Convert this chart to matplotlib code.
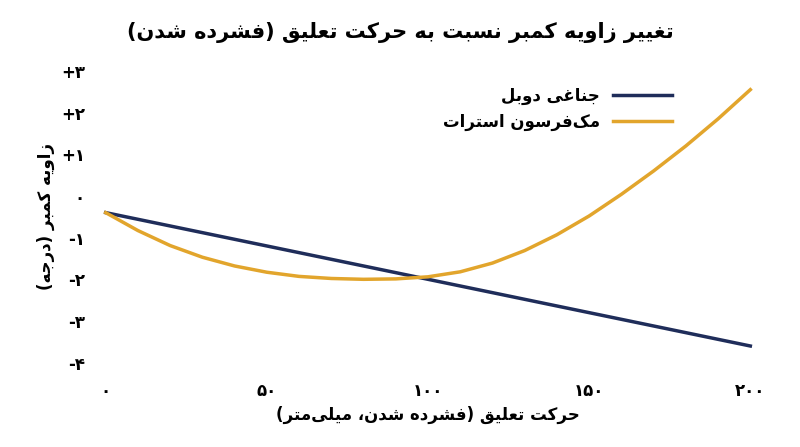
import matplotlib
matplotlib.use("Agg")
import matplotlib.pyplot as plt

# minimal Persian shaping (matplotlib has no RTL/joining support)
FORMS = {
    'ا': (0xFE8D, 0xFE8E, None, None), 'ب': (0xFE8F, 0xFE90, 0xFE91, 0xFE92),
    'ت': (0xFE95, 0xFE96, 0xFE97, 0xFE98), 'ج': (0xFE9D, 0xFE9E, 0xFE9F, 0xFEA0),
    'ح': (0xFEA1, 0xFEA2, 0xFEA3, 0xFEA4), 'د': (0xFEA9, 0xFEAA, None, None),
    'ر': (0xFEAD, 0xFEAE, None, None), 'ز': (0xFEAF, 0xFEB0, None, None),
    'س': (0xFEB1, 0xFEB2, 0xFEB3, 0xFEB4), 'ش': (0xFEB5, 0xFEB6, 0xFEB7, 0xFEB8),
    'ع': (0xFEC9, 0xFECA, 0xFECB, 0xFECC), 'غ': (0xFECD, 0xFECE, 0xFECF, 0xFED0),
    'ف': (0xFED1, 0xFED2, 0xFED3, 0xFED4), 'ق': (0xFED5, 0xFED6, 0xFED7, 0xFED8),
    'ل': (0xFEDD, 0xFEDE, 0xFEDF, 0xFEE0), 'م': (0xFEE1, 0xFEE2, 0xFEE3, 0xFEE4),
    'ن': (0xFEE5, 0xFEE6, 0xFEE7, 0xFEE8), 'ه': (0xFEE9, 0xFEEA, 0xFEEB, 0xFEEC),
    'و': (0xFEED, 0xFEEE, None, None), 'ک': (0xFB8E, 0xFB8F, 0xFB90, 0xFB91),
    'ی': (0xFBFC, 0xFBFD, 0xFBFE, 0xFBFF),
}
MIRROR = {'(': ')', ')': '('}


def fa(text):
    chars = list(text)
    out = []
    for i, c in enumerate(chars):
        if c not in FORMS:
            out.append(MIRROR.get(c, c))
            continue
        prev = chars[i - 1] if i > 0 else None
        nxt = chars[i + 1] if i + 1 < len(chars) else None
        join_prev = prev in FORMS and FORMS[prev][2] is not None
        join_next = nxt in FORMS and FORMS[c][2] is not None
        iso, fin, ini, med = FORMS[c]
        if join_prev and join_next:
            f = med
        elif join_prev:
            f = fin
        elif join_next:
            f = ini
        else:
            f = iso
        out.append(chr(f))
    out = [c for c in out if c != '\u200c']
    return ''.join(reversed(out))


travel = [0, 10, 20, 30, 40, 50, 60, 70, 80, 90, 100, 110, 120, 130, 140, 150, 160, 170, 180, 190, 200]
double_wishbone = [-0.4, -0.56, -0.72, -0.88, -1.04, -1.2, -1.36, -1.52, -1.68, -1.84, -2.0,
                   -2.16, -2.32, -2.48, -2.64, -2.8, -2.96, -3.12, -3.28, -3.44, -3.6]
macpherson = [-0.4, -0.83, -1.19, -1.47, -1.68, -1.83, -1.93, -1.98, -2.0, -1.99, -1.94,
              -1.82, -1.61, -1.31, -0.93, -0.48, 0.04, 0.6, 1.2, 1.85, 2.55]
xticks = [0, 50, 100, 150, 200]
xlabels = ['۰', '۵۰', '۱۰۰', '۱۵۰', '۲۰۰']
yticks = [-4, -3, -2, -1, 0, 1, 2, 3]
ylabels = ['-۴', '-۳', '-۲', '-۱', '۰', '+۱', '+۲', '+۳']

plt.rcParams['font.family'] = ['DejaVu Sans']
fig, ax = plt.subplots(figsize=(8, 4.47), dpi=100)
ax.plot(travel, double_wishbone, color='#1f2d5a', lw=2.5, label=fa('جناغی دوبل'))
ax.plot(travel, macpherson, color='#e2a52c', lw=2.5, label=fa('مک‌فرسون استرات'),
        solid_joinstyle='round')

ax.set_xticks(xticks, xlabels, fontsize=12, fontweight='bold')
ax.set_yticks(yticks, ylabels, fontsize=12, fontweight='bold')
ax.set_xlim(-3, 203)
ax.set_ylim(-4.2, 3.2)
for s in ax.spines.values():
    s.set_visible(False)
ax.tick_params(length=0, pad=8)
ax.set_xlabel(fa('حرکت تعلیق (فشرده شدن، میلی‌متر)'), fontsize=12, fontweight='bold')
ax.set_ylabel(fa('زاویه کمبر (درجه)'), fontsize=12, fontweight='bold')
fig.suptitle(fa('تغییر زاویه کمبر نسبت به حرکت تعلیق (فشرده شدن)'), fontsize=15,
             fontweight='bold', y=0.95)
ax.legend(loc='upper left', bbox_to_anchor=(0.5, 0.97), frameon=False, markerfirst=False,
          prop={'size': 12, 'weight': 'bold'}, handlelength=3.5)
fig.subplots_adjust(left=0.12, right=0.95, top=0.86, bottom=0.17)
fig.savefig('out.png')
